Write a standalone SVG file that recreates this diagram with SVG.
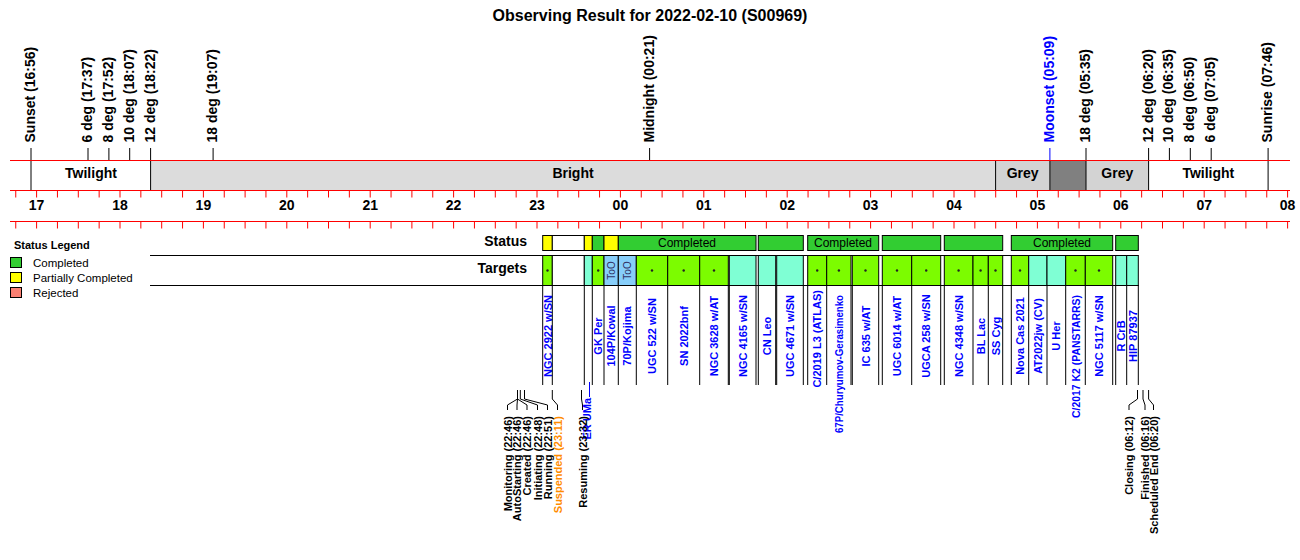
<svg xmlns="http://www.w3.org/2000/svg" xmlns:xlink="http://www.w3.org/1999/xlink" width="1300" height="560" viewBox="0 0 1300 560">
<style>
text{font-family:"Liberation Sans",Arial,sans-serif}
.b14{font-weight:bold;font-size:14px}
.hr{font-weight:bold;font-size:14px;text-anchor:middle}
.title{font-weight:bold;font-size:16px;text-anchor:middle}
.tl{font-weight:bold;font-size:11px;fill:#0000ff;text-anchor:middle}
.tle{font-weight:bold;font-size:11px;fill:#0000ff;text-anchor:end}
.ev{font-weight:bold;font-size:11px;text-anchor:end}
.comp{font-size:12px;text-anchor:middle}
.too{font-size:10px;fill:#333366;text-anchor:middle}
.leg{font-size:11.5px}
.red{stroke:#ff0000;stroke-width:1;fill:none}
.blk{stroke:#000;stroke-width:1;fill:none}
.cell{stroke:#000;stroke-width:1}
.g{fill:#7cfc00}.c{fill:#7fffd4}.o{fill:#87cefa}.w{fill:#ffffff}
.sg{fill:#32cd32}.sy{fill:#ffff00}
.dot{fill:#222}
</style>
<defs>
<path id="ticks" class="red" d="M15.75 0v7M36.6 0v7M57.45 0v7M78.3 0v7M99.15 0v7M120 0v7M140.85 0v7M161.7 0v7M182.55 0v7M203.4 0v7M224.25 0v7M245.1 0v7M265.95 0v7M286.8 0v7M307.65 0v7M328.5 0v7M349.35 0v7M370.2 0v7M391.05 0v7M411.9 0v7M432.75 0v7M453.6 0v7M474.45 0v7M495.3 0v7M516.15 0v7M537 0v7M557.85 0v7M578.7 0v7M599.55 0v7M620.4 0v7M641.25 0v7M662.1 0v7M682.95 0v7M703.8 0v7M724.65 0v7M745.5 0v7M766.35 0v7M787.2 0v7M808.05 0v7M828.9 0v7M849.75 0v7M870.6 0v7M891.45 0v7M912.3 0v7M933.15 0v7M954 0v7M974.85 0v7M995.7 0v7M1016.55 0v7M1037.4 0v7M1058.25 0v7M1079.1 0v7M1099.95 0v7M1120.8 0v7M1141.65 0v7M1162.5 0v7M1183.35 0v7M1204.2 0v7M1225.05 0v7M1245.9 0v7M1266.75 0v7M1287.6 0v7"/>
</defs>
<rect width="1300" height="560" fill="#ffffff"/>
<text class="title" x="650" y="21">Observing Result for 2022-02-10 (S00969)</text>

<g id="sky-events">
<path class="blk" d="M31 148V160M88 148V160M108.9 148V160M129.7 148V160M150.6 148V160M213.1 148V160M649.6 148V160M1086 148V160M1148.6 148V160M1169.4 148V160M1190.3 148V160M1211.2 148V160M1268.1 148V160"/>
<path d="M1049.9 148V160" stroke="#0000ff" fill="none"/>
<g class="b14">
<text transform="translate(35,142.5) rotate(-90)">Sunset (16:56)</text>
<text transform="translate(92,142.5) rotate(-90)">6 deg (17:37)</text>
<text transform="translate(112.9,142.5) rotate(-90)">8 deg (17:52)</text>
<text transform="translate(133.7,142.5) rotate(-90)">10 deg (18:07)</text>
<text transform="translate(154.6,142.5) rotate(-90)">12 deg (18:22)</text>
<text transform="translate(217.1,142.5) rotate(-90)">18 deg (19:07)</text>
<text transform="translate(653.6,142.5) rotate(-90)">Midnight (00:21)</text>
<text transform="translate(1053.9,142.5) rotate(-90)" fill="#0000ff">Moonset (05:09)</text>
<text transform="translate(1090,142.5) rotate(-90)">18 deg (05:35)</text>
<text transform="translate(1152.6,142.5) rotate(-90)">12 deg (06:20)</text>
<text transform="translate(1173.4,142.5) rotate(-90)">10 deg (06:35)</text>
<text transform="translate(1194.3,142.5) rotate(-90)">8 deg (06:50)</text>
<text transform="translate(1215.2,142.5) rotate(-90)">6 deg (07:05)</text>
<text transform="translate(1272.1,142.5) rotate(-90)">Sunrise (07:46)</text>
</g>
</g>

<g id="sky-band">
<rect x="150.6" y="160" width="845" height="30" fill="#dcdcdc"/>
<rect x="995.6" y="160" width="54.3" height="30" fill="#d3d3d3"/>
<rect x="1049.9" y="160" width="36.1" height="30" fill="#808080"/>
<rect x="1086" y="160" width="62.6" height="30" fill="#d3d3d3"/>
<path class="blk" d="M31 160V190M150.6 160V190M995.6 160V190M1049.9 160V190M1086 160V190M1148.6 160V190M1268.1 160V190"/>
<path class="red" d="M10 160.5H1290M10 190.5H1290M10 221.5H1290"/>
<use xlink:href="#ticks" y="190.5"/>
<use xlink:href="#ticks" y="221.5"/>
<g class="b14" text-anchor="middle">
<text x="91" y="178">Twilight</text>
<text x="573" y="178">Bright</text>
<text x="1022.7" y="178">Grey</text>
<text x="1117.3" y="178">Grey</text>
<text x="1208.3" y="178">Twilight</text>
</g>
</g>

<g id="hour-axis">
<text class="hr" x="36.6" y="210">17</text>
<text class="hr" x="120" y="210">18</text>
<text class="hr" x="203.4" y="210">19</text>
<text class="hr" x="286.8" y="210">20</text>
<text class="hr" x="370.2" y="210">21</text>
<text class="hr" x="453.6" y="210">22</text>
<text class="hr" x="537" y="210">23</text>
<text class="hr" x="620.4" y="210">00</text>
<text class="hr" x="703.8" y="210">01</text>
<text class="hr" x="787.2" y="210">02</text>
<text class="hr" x="870.6" y="210">03</text>
<text class="hr" x="954" y="210">04</text>
<text class="hr" x="1037.4" y="210">05</text>
<text class="hr" x="1120.8" y="210">06</text>
<text class="hr" x="1204.2" y="210">07</text>
<text class="hr" x="1287.6" y="210">08</text>
</g>

<g id="legend">
<text x="14" y="248.5" font-weight="bold" font-size="11px">Status Legend</text>
<rect x="10.5" y="257.5" width="11" height="10" class="cell sg"/>
<rect x="10.5" y="272.5" width="11" height="10" class="cell sy"/>
<rect x="10.5" y="287.5" width="11" height="10" class="cell" fill="#fa8072"/>
<text class="leg" x="33" y="266.5">Completed</text>
<text class="leg" x="33" y="281.5">Partially Completed</text>
<text class="leg" x="33" y="296.5">Rejected</text>
</g>

<g id="row-labels">
<path class="blk" d="M150 255.5H1138.3M150 285.5H1138.3"/>
<text class="b14" x="527" y="246" text-anchor="end">Status</text>
<text class="b14" x="527" y="273" text-anchor="end">Targets</text>
</g>

<g id="status-row">
<rect class="cell sy" x="542.7" y="235.5" width="9.6" height="15"/>
<rect class="cell w" x="552.3" y="235.5" width="32" height="15"/>
<rect class="cell sy" x="584.3" y="235.5" width="8" height="15"/>
<rect class="cell sg" x="592.3" y="235.5" width="11.7" height="15"/>
<rect class="cell sy" x="604" y="235.5" width="14.3" height="15"/>
<rect class="cell sg" x="618.3" y="235.5" width="137.7" height="15"/>
<rect class="cell sg" x="758.3" y="235.5" width="45" height="15"/>
<rect class="cell sg" x="807.7" y="235.5" width="71" height="15"/>
<rect class="cell sg" x="882.3" y="235.5" width="58.4" height="15"/>
<rect class="cell sg" x="944.3" y="235.5" width="58.4" height="15"/>
<rect class="cell sg" x="1011.3" y="235.5" width="101.4" height="15"/>
<rect class="cell sg" x="1115.7" y="235.5" width="22.6" height="15"/>
<text class="comp" x="687" y="247">Completed</text>
<text class="comp" x="843" y="247">Completed</text>
<text class="comp" x="1062" y="247">Completed</text>
</g>

<g id="targets">
<g id="t-ngc2922"><rect class="cell g" x="542.7" y="255.5" width="9.6" height="30"/><circle class="dot" cx="547.5" cy="270.5" r="1.2"/><text class="tl" transform="translate(551.5,336) rotate(-90)">NGC 2922 w/SN</text></g>
<g id="t-gap"><rect class="cell w" x="552.3" y="255.5" width="32" height="30"/></g>
<g id="t-erUMa"><rect class="cell c" x="584.3" y="255.5" width="8" height="30"/><text class="tle" transform="translate(590.7,398) rotate(-90)">ER UMa</text></g>
<g id="t-gkper"><rect class="cell g" x="592.3" y="255.5" width="11.7" height="30"/><circle class="dot" cx="598.2" cy="270.5" r="1.2"/><text class="tl" transform="translate(602.2,336) rotate(-90)">GK Per</text></g>
<g id="t-104p"><rect class="cell o" x="604" y="255.5" width="14.3" height="30"/><text class="too" transform="translate(614.7,270.5) rotate(-90)">ToO</text><text class="tl" transform="translate(615.2,336) rotate(-90)">104P/Kowal</text></g>
<g id="t-70p"><rect class="cell o" x="618.3" y="255.5" width="18" height="30"/><text class="too" transform="translate(630.8,270.5) rotate(-90)">ToO</text><text class="tl" transform="translate(631.3,336) rotate(-90)">70P/Kojima</text></g>
<g id="t-ugc522"><rect class="cell g" x="636.3" y="255.5" width="31.4" height="30"/><circle class="dot" cx="652" cy="270.5" r="1.2"/><text class="tl" transform="translate(656,336) rotate(-90)">UGC 522 w/SN</text></g>
<g id="t-sn2022bnf"><rect class="cell g" x="667.7" y="255.5" width="32" height="30"/><circle class="dot" cx="683.7" cy="270.5" r="1.2"/><text class="tl" transform="translate(687.7,336) rotate(-90)">SN 2022bnf</text></g>
<g id="t-ngc3628"><rect class="cell g" x="699.7" y="255.5" width="28.6" height="30"/><circle class="dot" cx="714" cy="270.5" r="1.2"/><text class="tl" transform="translate(718.2,336) rotate(-90)">NGC 3628 w/AT</text></g>
<g id="t-ngc4165"><rect class="cell c" x="729.3" y="255.5" width="26.7" height="30"/><text class="tl" transform="translate(746.6,336) rotate(-90)">NGC 4165 w/SN</text></g>
<g id="t-cnleo"><rect class="cell c" x="758.3" y="255.5" width="17.4" height="30"/><text class="tl" transform="translate(771,336) rotate(-90)">CN Leo</text></g>
<g id="t-ugc4671"><rect class="cell c" x="776.7" y="255.5" width="26.6" height="30"/><text class="tl" transform="translate(794,336) rotate(-90)">UGC 4671 w/SN</text></g>
<g id="t-c2019l3"><rect class="cell g" x="807.7" y="255.5" width="19" height="30"/><circle class="dot" cx="817.2" cy="270.5" r="1.2"/><text class="tle" transform="translate(821.2,290) rotate(-90)">C/2019 L3 (ATLAS)</text></g>
<g id="t-67p"><rect class="cell g" x="826.7" y="255.5" width="24.3" height="30"/><circle class="dot" cx="838.9" cy="270.5" r="1.2"/><text class="tle" transform="translate(842.9,295) rotate(-90)" textLength="138" lengthAdjust="spacingAndGlyphs">67P/Churyumov-Gerasimenko</text></g>
<g id="t-ic635"><rect class="cell g" x="852.3" y="255.5" width="26.4" height="30"/><circle class="dot" cx="865.5" cy="270.5" r="1.2"/><text class="tl" transform="translate(869.5,336) rotate(-90)">IC 635 w/AT</text></g>
<g id="t-ugc6014"><rect class="cell g" x="882.3" y="255.5" width="29.4" height="30"/><circle class="dot" cx="897" cy="270.5" r="1.2"/><text class="tl" transform="translate(901,336) rotate(-90)">UGC 6014 w/AT</text></g>
<g id="t-ugca258"><rect class="cell g" x="911.7" y="255.5" width="29" height="30"/><circle class="dot" cx="926.2" cy="270.5" r="1.2"/><text class="tl" transform="translate(930.2,336) rotate(-90)">UGCA 258 w/SN</text></g>
<g id="t-ngc4348"><rect class="cell g" x="944.3" y="255.5" width="28.7" height="30"/><circle class="dot" cx="958.6" cy="270.5" r="1.2"/><text class="tl" transform="translate(962.6,336) rotate(-90)">NGC 4348 w/SN</text></g>
<g id="t-bllac"><rect class="cell g" x="973" y="255.5" width="15.3" height="30"/><circle class="dot" cx="980.6" cy="270.5" r="1.2"/><text class="tl" transform="translate(984.6,336) rotate(-90)">BL Lac</text></g>
<g id="t-sscyg"><rect class="cell g" x="988.3" y="255.5" width="14.4" height="30"/><circle class="dot" cx="995.5" cy="270.5" r="1.2"/><text class="tl" transform="translate(999.5,336) rotate(-90)">SS Cyg</text></g>
<g id="t-novacas"><rect class="cell g" x="1011.3" y="255.5" width="17.4" height="30"/><circle class="dot" cx="1020" cy="270.5" r="1.2"/><text class="tl" transform="translate(1024,336) rotate(-90)">Nova Cas 2021</text></g>
<g id="t-at2022jw"><rect class="cell c" x="1028.7" y="255.5" width="18.3" height="30"/><text class="tl" transform="translate(1041.9,336) rotate(-90)">AT2022jw (CV)</text></g>
<g id="t-uher"><rect class="cell c" x="1047" y="255.5" width="18.7" height="30"/><text class="tl" transform="translate(1060.3,336) rotate(-90)">U Her</text></g>
<g id="t-c2017k2"><rect class="cell g" x="1065.7" y="255.5" width="19.6" height="30"/><circle class="dot" cx="1075.5" cy="270.5" r="1.2"/><text class="tle" transform="translate(1079.5,295) rotate(-90)" textLength="123" lengthAdjust="spacingAndGlyphs">C/2017 K2 (PANSTARRS)</text></g>
<g id="t-ngc5117"><rect class="cell g" x="1085.3" y="255.5" width="27.4" height="30"/><circle class="dot" cx="1099" cy="270.5" r="1.2"/><text class="tl" transform="translate(1103,336) rotate(-90)">NGC 5117 w/SN</text></g>
<g id="t-rcrb"><rect class="cell c" x="1115.7" y="255.5" width="11" height="30"/><text class="tl" transform="translate(1125.2,336) rotate(-90)">R CrB</text></g>
<g id="t-hip87937"><rect class="cell c" x="1126.7" y="255.5" width="11.6" height="30"/><text class="tl" transform="translate(1136.5,336) rotate(-90)">HIP 87937</text></g>
</g>

<g id="connectors">
<path class="blk" d="M542.7 285V385M552.3 285V385M584.3 285V385M592.3 285V385M604 285V385M618.3 285V385M636.3 285V385M667.7 285V385M699.7 285V385M728.3 285V385M729.3 285V385M756 285V385M758.3 285V385M775.7 285V385M776.7 285V385M803.3 285V385M807.7 285V385M826.7 285V385M851 285V385M852.3 285V385M878.7 285V385M882.3 285V385M911.7 285V385M940.7 285V385M944.3 285V385M973 285V385M988.3 285V385M1002.7 285V385M1011.3 285V385M1028.7 285V385M1047 285V385M1065.7 285V385M1085.3 285V385M1112.7 285V385M1115.7 285V385M1126.7 285V385M1138.3 285V385"/>
<path d="M589.5 382V397" stroke="#0000ff" fill="none"/>
<path class="blk" d="M517.5 390V399L507.5 405V410M517.5 390V399L517 405V410M517.5 390V399L527 405V410M520.3 390V399L537.5 405V410M524.5 390V399L547.5 405V410M552.3 390V399L557.5 405V410M581.5 390V399L582.5 405V410M1137.5 390V399L1129 405V410M1143 390V399L1145 405V410M1148.6 390V399L1153.5 405V410"/>
</g>

<g id="run-events">
<text class="ev" transform="translate(511.5,416) rotate(-90)">Monitoring (22:46)</text>
<text class="ev" transform="translate(521,416) rotate(-90)">AutoStarting (22:46)</text>
<text class="ev" transform="translate(531,416) rotate(-90)">Created (22:46)</text>
<text class="ev" transform="translate(541.5,416) rotate(-90)">Initiating (22:48)</text>
<text class="ev" transform="translate(551.5,416) rotate(-90)">Running (22:51)</text>
<text class="ev" transform="translate(561.5,416) rotate(-90)" fill="#ff8c00">Suspended (23:11)</text>
<text class="ev" transform="translate(586.5,416) rotate(-90)">Resuming (23:32)</text>
<text class="ev" transform="translate(1133,416) rotate(-90)">Closing (06:12)</text>
<text class="ev" transform="translate(1149,416) rotate(-90)">Finished (06:16)</text>
<text class="ev" transform="translate(1157.5,416) rotate(-90)">Scheduled End (06:20)</text>
</g>
</svg>
